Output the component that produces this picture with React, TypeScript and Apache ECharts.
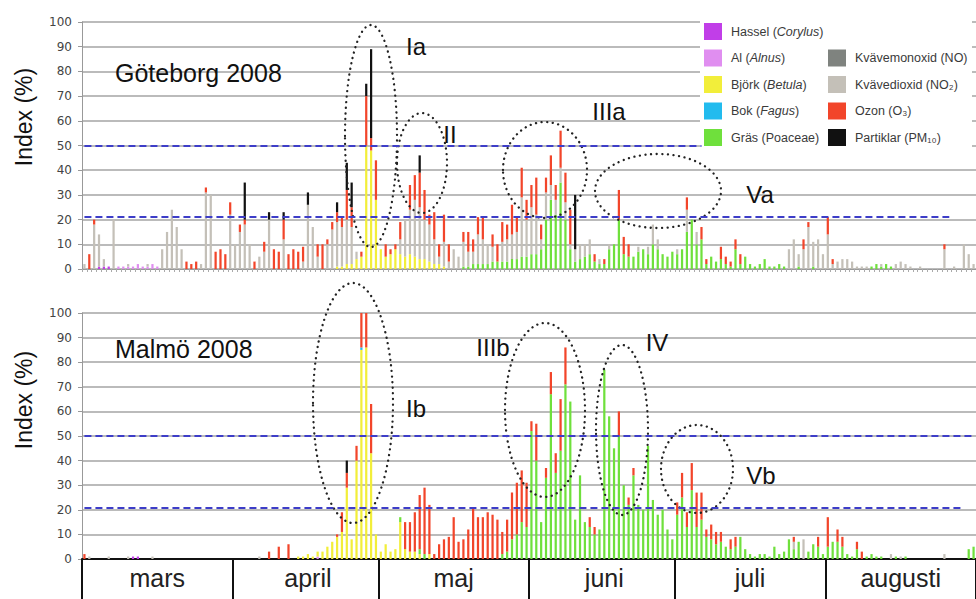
import React, { useEffect, useRef } from 'react';
import * as echarts from 'echarts';

const FONT = '"Liberation Sans", Arial, Helvetica, sans-serif';

const monthNames = ['mars', 'april', 'maj', 'juni', 'juli', 'augusti'];
const monthLengths = [31, 30, 31, 30, 31, 31];
const thresholdHigh = 50;
const thresholdLow = 21;

const Z = (n: number): number[] => new Array(n).fill(0);

// ---------- Göteborg 2008 (daily index, 1 mars – 31 augusti) ----------
const gHassel = [0,0,0,1,1,1,0,0,0,0, 0,0,0,0,0,0,0,0,0,0, 0,0,0,0,0,0,0,0,0,0, 0, ...Z(153)];
const gAl = [0,0,0,0,0,0,0,1,1,1, 1,2,1,1,2,1,0,0,0,0, 0,0,0,0,0,0,0,0,0,0, 0, ...Z(153)];
const gBjork = [...Z(31), ...Z(21), 1,1,2,2,4,5,50,48,28,
  8,5,6,8,6,5,6,5,4,4, 3,2,2,1, ...Z(109)];
const gBok = Z(184);
const gGras = [...Z(61), ...Z(17), 1,1,2,2,2,2,3,3,3,3,4,4,5,5,
  6,6,8,20,28,22,35,20,8,3, 4,5,6,3,2,2,8,10,20,6, 5,5,7,8,6,10,8,6,5,7,
  6,8,15,20,10,12,2,5,3,4, 2,1,8,2,5,2,1,2,4,1, 1,2,1,0,0,1,0,0,1,0, 0,
  ...Z(9), 1,2,1,2,1, ...Z(17)];
const gNO = Z(184);
const gNO2 = [
  2,0,18,13,3,0,20,0,0,1, 0,0,0,1,0,0,8,15,24,17, 8,0,0,0,2,31,30,0,0,0, 22,
  10,15,18,10,0,5,7,20,0,0, 12,0,0,0,3,26,17,5,0,10, 16,18,16,18,15,3,0,0,0,0,
  0,0,0,0,6,15,18,23,21,16, 15,10,3,10,3,8,5,10,6,5, 12,10,8,6,0,8,9,10,11,24, 15,
  19,16,4,11,6,6,6,7,2,5, 6,5,6,0,2,0,2,0,0,0, 0,0,2,0,3,8,4,0,0,0,
  2,0,9,0,5,0,0,0,0,0, 0,0,0,0,0,0,0,0,0,0, 0,0,0,8,12,5,8,17,10,12, 6,
  14,2,3,4,4,3,1,1,1,0, 0,1,0,0,2,3,2,1,0,1, 0,0,0,0,8,0,1,0,10,6, 2];
const gO3 = [
  0,6,2,0,0,0,0,0,0,0, 0,0,0,0,0,0,0,0,0,0, 0,3,2,3,0,2,0,7,8,6, 5,
  0,3,2,0,3,0,4,0,8,7, 8,6,8,7,6,0,0,5,10,2, 3,4,4,12,8,0,2,20,5,16,
  0,5,2,2,7,0,10,10,14,12, 4,11,5,11,7,0,0,4,8,5, 7,9,0,5,7,8,6,12,6,12, 8,
  9,15,6,6,12,6,15,12,14,0, 0,0,0,3,0,2,0,0,12,7, 5,0,0,0,0,0,0,0,0,0,
  0,0,5,0,0,5,2,0,0,5, 3,2,4,4,0,0,0,0,0,0, 0,0,0,0,0,0,4,2,0,0, 0,
  7,2,0,0,0,0,0,0,0,0, 0,0,0,0,0,0,0,0,0,0, 0,0,0,0,2,0,0,0,0,0, 0];
const gPM10 = [...Z(31),
  0,0,15,0,0,0,0,3,0,0, 3,0,0,0,0,5,0,0,0,0, 0,4,0,11,10,0,0,5,36,0,
  0,0,0,0,0,0,0,0,7, ...Z(22),
  0,0,0,0,0,0,0,0,0,22, ...Z(20), ...Z(62)];

// ---------- Malmö 2008 ----------
const mHassel = [0,0,0,0,0,0,0,0,0,0, 1,1, ...Z(172)];
const mAl = [...Z(31), ...Z(17), 1, ...Z(135)];
const mBjork = [...Z(31), ...Z(13), 1,1,2,1,2,3,5,7,9,11,29,8,40,85,86,43,10,
  3,6,3,4,15,4,3,3,2,0, 2, ...Z(20), ...Z(92)];
const mBok = [...Z(31), ...Z(26), 1, ...Z(126)];
const mGras = [...Z(61),
  0,0,0,0,2,0,0,0,2,2, 0,0,0,0,0,0,0,0,0,0, 0,0,0,0,0,2,3,8,10,15, 13,
  52,40,15,33,67,35,44,71,64,16, 34,15,13,10,12,77,58,45,50,30, 22,34,22,20,46,24,18,20,12,8,
  18,25,13,28,13,16,9,8,6,7, 5,4,5,9,4,2,1,2,2,1, 5,2,3,8,4,7,0,3,6,5, 2,
  5,7,7,5,2,1,4,0,1,2, 1,1,0,0,1,0,1,0,0,0, 0,0,0,0,0,0,0,0,0,4, 5];
const mNO = Z(184);
const mNO2 = [0,1,0,0,0,1,0,0,0,1, 0,0,0,0,1, ...Z(16),
  ...Z(5), 1, ...Z(24),
  ...Z(31), ...Z(30),
  ...Z(24), 3, 0, 8, ...Z(4),
  ...Z(13), 2, 0, 1, ...Z(8), 2, ...Z(6)];
const mO3 = [2, ...Z(30),
  0,0,0,0,0,0,0,3,0,5, 0,6,0,0,0,0,0,0,0,0, 0,1,8,6,0,6,14,14,20,0,
  0,0,0,0,0,11,12,16,22,27, 20,2,6,8,9,17,7,8,12,21, 17,17,19,18,16,9,13,19,21,21, 18,
  4,15,0,4,9,8,21,15,0,0, 0,0,4,3,0,0,0,0,10,0, 3,3,0,0,0,0,0,0,0,0,
  5,10,6,11,14,11,3,6,5,4, 0,4,4,0,0,0,0,0,0,0, 0,0,0,0,2,0,0,0,0,4, 0,
  12,0,5,4,0,0,3,3, ...Z(23)];
const mPM10 = [...Z(31), ...Z(23), 5, ...Z(129)];

const seriesNames = [
  'Hassel (Corylus)', 'Al (Alnus)', 'Björk (Betula)', 'Bok (Fagus)', 'Gräs (Poaceae)',
  'Kvävemonoxid (NO)', 'Kvävedioxid (NO₂)', 'Ozon (O₃)', 'Partiklar (PM₁₀)',
];
const legendLabels = [
  'Hassel ({i|Corylus})', 'Al ({i|Alnus})', 'Björk ({i|Betula})', 'Bok ({i|Fagus})', 'Gräs (Poaceae)',
  'Kvävemonoxid (NO)', 'Kvävedioxid (NO₂)', 'Ozon (O₃)', 'Partiklar (PM₁₀)',
];
const seriesColors = ['#c13ee8', '#e08ef0', '#f2ee3a', '#22bbee', '#6fe03c', '#7f837f', '#c4c0b8', '#f2452a', '#111111'];

const cityTitles = ['Göteborg 2008', 'Malmö 2008'];
const cityData = [
  [gHassel, gAl, gBjork, gBok, gGras, gNO, gNO2, gO3, gPM10],
  [mHassel, mAl, mBjork, mBok, mGras, mNO, mNO2, mO3, mPM10],
];

const ellipses = [
  { cx: 371, cy: 136, rx: 26, ry: 111, label: 'Ia', lx: 416, ly: 46 },
  { cx: 422, cy: 163, rx: 25, ry: 50, label: 'II', lx: 450, ly: 134 },
  { cx: 545, cy: 170, rx: 42, ry: 48, label: 'IIIa', lx: 609, ly: 111 },
  { cx: 658, cy: 191, rx: 63, ry: 37, label: 'Va', lx: 760, ly: 194 },
  { cx: 353, cy: 403, rx: 40, ry: 120, label: 'Ib', lx: 416, ly: 408 },
  { cx: 545, cy: 410, rx: 40, ry: 87, label: 'IIIb', lx: 493, ly: 347 },
  { cx: 622, cy: 430, rx: 26, ry: 85, label: 'IV', lx: 657, ly: 342 },
  { cx: 697, cy: 469, rx: 36, ry: 44, label: 'Vb', lx: 761, ly: 475 },
];

export default function App() {
  const ref = useRef<HTMLDivElement>(null);

  useEffect(() => {
    if (!ref.current) return;
    const chart = echarts.init(ref.current, null, { renderer: 'svg' });

    const days: string[] = [];
    const monthStarts: number[] = [];
    const monthMids: number[] = [];
    monthNames.forEach((m, i) => {
      monthStarts.push(days.length);
      monthMids.push(days.length + Math.floor(monthLengths[i] / 2));
      for (let d = 1; d <= monthLengths[i]; d++) days.push(d + ' ' + m);
    });

    const lineEnds = [
      [127, 178],
      [183, 181],
    ];

    const series: any[] = [];
    cityData.forEach((data, city) => {
      seriesNames.forEach((name, k) => {
        const s: any = {
          type: 'bar',
          name,
          stack: 'city' + city,
          xAxisIndex: city,
          yAxisIndex: city,
          data: data[k],
          barWidth: '46%',
          itemStyle: { color: seriesColors[k] },
          silent: true,
        };
        if (k === 0) {
          s.markLine = {
            silent: true,
            symbol: ['none', 'none'],
            label: { show: false },
            lineStyle: { color: '#3d3dc8', type: [7, 4], width: 2.2 },
            data: [
              [{ coord: [days[0], thresholdHigh] }, { coord: [days[lineEnds[city][0]], thresholdHigh] }],
              [{ coord: [days[0], thresholdLow] }, { coord: [days[lineEnds[city][1]], thresholdLow] }],
            ],
          };
        }
        series.push(s);
      });
    });

    const yAxisBase = (gridIndex: number) => ({
      type: 'value',
      gridIndex,
      min: 0,
      max: 100,
      interval: 10,
      axisLine: { show: true, lineStyle: { color: '#999', width: 1 } },
      axisTick: { show: true, length: 4, lineStyle: { color: '#999' } },
      axisLabel: { fontSize: 12, color: '#444', margin: 10, fontFamily: '"DejaVu Sans", Verdana, sans-serif' },
      splitLine: { lineStyle: { color: '#a4a4a4', width: 1.5 } },
    });

    const legendFormatter = (name: string) => legendLabels[seriesNames.indexOf(name)];
    const legendText = {
      fontSize: 12.5,
      color: '#3a3a3a',
      fontFamily: FONT,
      padding: [0, 0, 0, 4],
      rich: { i: { fontStyle: 'italic', fontSize: 12.5, color: '#3a3a3a', fontFamily: FONT } },
    };

    const graphics: any[] = [
      { type: 'rect', z: 1, shape: { x: 700, y: 14, width: 272, height: 143 }, style: { fill: '#ffffff' } },
      {
        type: 'text', x: 24, y: 117, rotation: Math.PI / 2, z: 5,
        style: { text: 'Index (%)', fontSize: 23, fontFamily: FONT, fill: '#111', align: 'center', verticalAlign: 'middle' },
      },
      {
        type: 'text', x: 24, y: 400, rotation: Math.PI / 2, z: 5,
        style: { text: 'Index (%)', fontSize: 23, fontFamily: FONT, fill: '#111', align: 'center', verticalAlign: 'middle' },
      },
    ];
    ellipses.forEach((e) => {
      graphics.push({
        type: 'ellipse', z: 5,
        shape: { cx: e.cx, cy: e.cy, rx: e.rx, ry: e.ry },
        style: { fill: 'none', stroke: '#222', lineWidth: 2.3, lineDash: [0.1, 5.5], lineCap: 'round' },
      });
      graphics.push({
        type: 'text', z: 5, x: e.lx, y: e.ly,
        style: { text: e.label, fontSize: 24, fontFamily: FONT, fill: '#111', align: 'center', verticalAlign: 'middle' },
      });
    });

    chart.setOption({
      animation: false,
      backgroundColor: '#ffffff',
      title: [
        { text: cityTitles[0], left: 110, top: 55, textStyle: { fontSize: 25, fontWeight: 'normal', color: '#111', fontFamily: FONT } },
        { text: cityTitles[1], left: 110, top: 331, textStyle: { fontSize: 25, fontWeight: 'normal', color: '#111', fontFamily: FONT } },
      ],
      legend: [
        {
          orient: 'vertical', left: 704, top: 23, padding: 0, itemWidth: 18, itemHeight: 17, itemGap: 9.5,
          icon: 'rect', selectedMode: false, data: seriesNames.slice(0, 5), formatter: legendFormatter, textStyle: legendText,
        },
        {
          orient: 'vertical', left: 828, top: 49.5, padding: 0, itemWidth: 18, itemHeight: 17, itemGap: 9.5,
          icon: 'rect', selectedMode: false, data: seriesNames.slice(5), formatter: legendFormatter, textStyle: legendText,
        },
      ],
      grid: [
        { left: 82, top: 22, width: 894, height: 247 },
        { left: 82, top: 313, width: 894, height: 246 },
      ],
      xAxis: [
        {
          type: 'category', gridIndex: 0, data: days, boundaryGap: true,
          axisLine: { lineStyle: { color: '#999', width: 1 } },
          axisTick: { show: true, interval: 0, length: 3, lineStyle: { color: '#aaa' } },
          axisLabel: { show: false },
        },
        {
          type: 'category', gridIndex: 1, data: days, boundaryGap: true,
          axisLine: { lineStyle: { color: '#111', width: 2 } },
          axisTick: {
            show: true, length: 42, lineStyle: { color: '#111', width: 2 },
            interval: (i: number) => monthStarts.indexOf(i) >= 0,
          },
          axisLabel: {
            interval: (i: number) => monthMids.indexOf(i) >= 0,
            formatter: (_v: string, i: number) => monthNames[monthMids.indexOf(i)] || '',
            fontSize: 25, color: '#222', margin: 6, fontFamily: FONT, hideOverlap: false,
          },
        },
      ],
      yAxis: [yAxisBase(0), yAxisBase(1)],
      series,
      graphic: graphics,
    });

    return () => chart.dispose();
  }, []);

  return (
    <div
      ref={ref}
      style={{ position: 'absolute', left: 0, top: 0, width: 976, height: 599, background: '#fff' }}
    />
  );
}
